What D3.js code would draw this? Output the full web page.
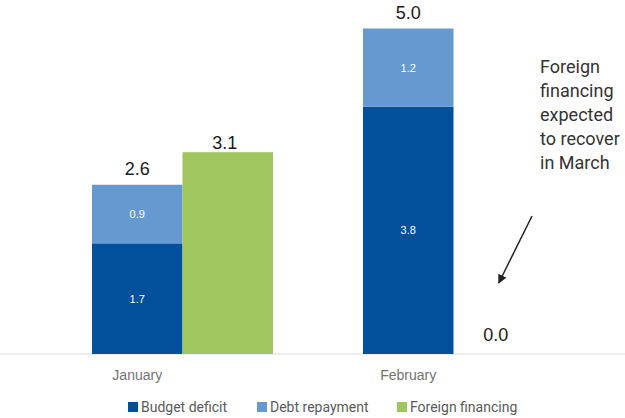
<!DOCTYPE html>
<head>
  <meta charset="utf-8">
  <script src="https://d3js.org/d3.v7.min.js"></script>
  <style type="text/css">
    body { margin:0; background:#fff; }
    .value { font-family: "Liberation Sans", Arial, sans-serif; font-size: 18px; fill: #1a1a1a; text-anchor: middle; }
    .inner { font-family: "Liberation Sans", Arial, sans-serif; font-size: 11px; fill: #fff; text-anchor: middle; }
    .cat { font-family: "Liberation Sans", Arial, sans-serif; font-size: 14px; fill: #737373; text-anchor: middle; }
    .legend text { font-family: Roboto, "Liberation Sans", sans-serif; font-size: 14px; fill: #5a5a5a; }
    .note { font-family: Roboto, "Liberation Sans", sans-serif; font-size: 18px; fill: #333; }
  </style>
</head>
<body>
<script>
// data
var months = ["January", "February"];
var budgetDeficit = [1.7, 3.8];
var debtRepayment = [0.9, 1.2];
var foreignFinancing = [3.1, 0.0];
var totals = ["2.6", "5.0"];
var seriesNames = ["Budget deficit", "Debt repayment", "Foreign financing"];
var colors = ["#02509b", "#6699d0", "#9fc75e"];
var noteLines = ["Foreign", "financing", "expected", "to recover", "in March"];

var width = 625, height = 418;

var svg = d3.select("body").append("svg")
  .attr("width", width)
  .attr("height", height);

var x0 = d3.scaleBand()
  .domain(months)
  .range([92, 544])
  .paddingInner(0.332)
  .paddingOuter(0);

var x1 = d3.scaleBand()
  .domain(["stack", "foreign"])
  .range([0, x0.bandwidth()]);

var y = d3.scaleLinear()
  .domain([0, 5])
  .range([354, 28.5]);

// baseline
svg.append("line")
  .attr("x1", 0).attr("x2", width)
  .attr("y1", y(0)).attr("y2", y(0))
  .attr("stroke", "#ececec")
  .attr("stroke-width", 2);

var rows = months.map(function(m, i) {
  return { month: m, bd: budgetDeficit[i], dr: debtRepayment[i], ff: foreignFinancing[i], total: totals[i] };
});

var g = svg.selectAll(".grp")
  .data(rows)
  .enter().append("g")
  .attr("class", "grp")
  .attr("transform", function(d) { return "translate(" + x0(d.month) + ",0)"; });

// budget deficit
g.append("rect")
  .attr("x", x1("stack"))
  .attr("width", x1.bandwidth())
  .attr("y", function(d) { return y(d.bd); })
  .attr("height", function(d) { return y(0) - y(d.bd); })
  .attr("fill", colors[0]);

// debt repayment stacked on top
g.append("rect")
  .attr("x", x1("stack"))
  .attr("width", x1.bandwidth())
  .attr("y", function(d) { return y(d.bd + d.dr); })
  .attr("height", function(d) { return y(d.bd) - y(d.bd + d.dr); })
  .attr("fill", colors[1]);

// foreign financing
g.append("rect")
  .attr("x", x1("foreign"))
  .attr("width", x1.bandwidth())
  .attr("y", function(d) { return y(d.ff); })
  .attr("height", function(d) { return y(0) - y(d.ff); })
  .attr("fill", colors[2]);

// inner labels
g.append("text")
  .attr("class", "inner")
  .attr("x", x1("stack") + x1.bandwidth() / 2)
  .attr("y", function(d) { return (y(0) + y(d.bd)) / 2 + 4; })
  .text(function(d) { return d.bd.toFixed(1); });

g.append("text")
  .attr("class", "inner")
  .attr("x", x1("stack") + x1.bandwidth() / 2)
  .attr("y", function(d) { return (y(d.bd) + y(d.bd + d.dr)) / 2 + 4; })
  .text(function(d) { return d.dr.toFixed(1); });

// totals
g.append("text")
  .attr("class", "value")
  .attr("x", x1("stack") + x1.bandwidth() / 2)
  .attr("y", function(d) { return y(d.bd + d.dr) - 10; })
  .text(function(d) { return d.total; });

g.append("text")
  .attr("class", "value")
  .attr("x", x1("foreign") + x1.bandwidth() / 2 - 3)
  .attr("y", function(d) { return y(d.ff) - (d.ff > 0 ? 3 : 13); })
  .text(function(d) { return d.ff.toFixed(1); });

// category labels
g.append("text")
  .attr("class", "cat")
  .attr("x", x1("stack") + x1.bandwidth() / 2)
  .attr("y", 380)
  .text(function(d) { return d.month; });

// annotation
var note = svg.append("text")
  .attr("class", "note")
  .attr("x", 540)
  .attr("y", 73);
note.selectAll("tspan")
  .data(noteLines)
  .enter().append("tspan")
  .attr("x", 540)
  .attr("dy", function(d, i) { return i === 0 ? 0 : 24; })
  .text(function(d) { return d; });

svg.append("defs").append("marker")
  .attr("id", "arrow")
  .attr("viewBox", "0 0 10 10")
  .attr("refX", 9).attr("refY", 5)
  .attr("markerWidth", 6).attr("markerHeight", 6)
  .attr("orient", "auto")
  .append("path")
  .attr("d", "M0,0L10,5L0,10z")
  .attr("fill", "#222");

var arrowEndX = x0("February") + x1("foreign") + x1.bandwidth() / 2;
svg.append("line")
  .attr("x1", 532).attr("y1", 216)
  .attr("x2", arrowEndX).attr("y2", 283)
  .attr("stroke", "#222")
  .attr("stroke-width", 1.5)
  .attr("marker-end", "url(#arrow)");

// legend
var legendX = [128, 257, 397];
var legend = svg.append("g").attr("class", "legend");
var li = legend.selectAll("g")
  .data(seriesNames)
  .enter().append("g")
  .attr("transform", function(d, i) { return "translate(" + legendX[i] + ",402)"; });
li.append("rect")
  .attr("width", 10).attr("height", 10)
  .attr("fill", function(d, i) { return colors[i]; });
li.append("text")
  .attr("x", 13)
  .attr("y", 10)
  .text(function(d) { return d; });
</script>
</body>
